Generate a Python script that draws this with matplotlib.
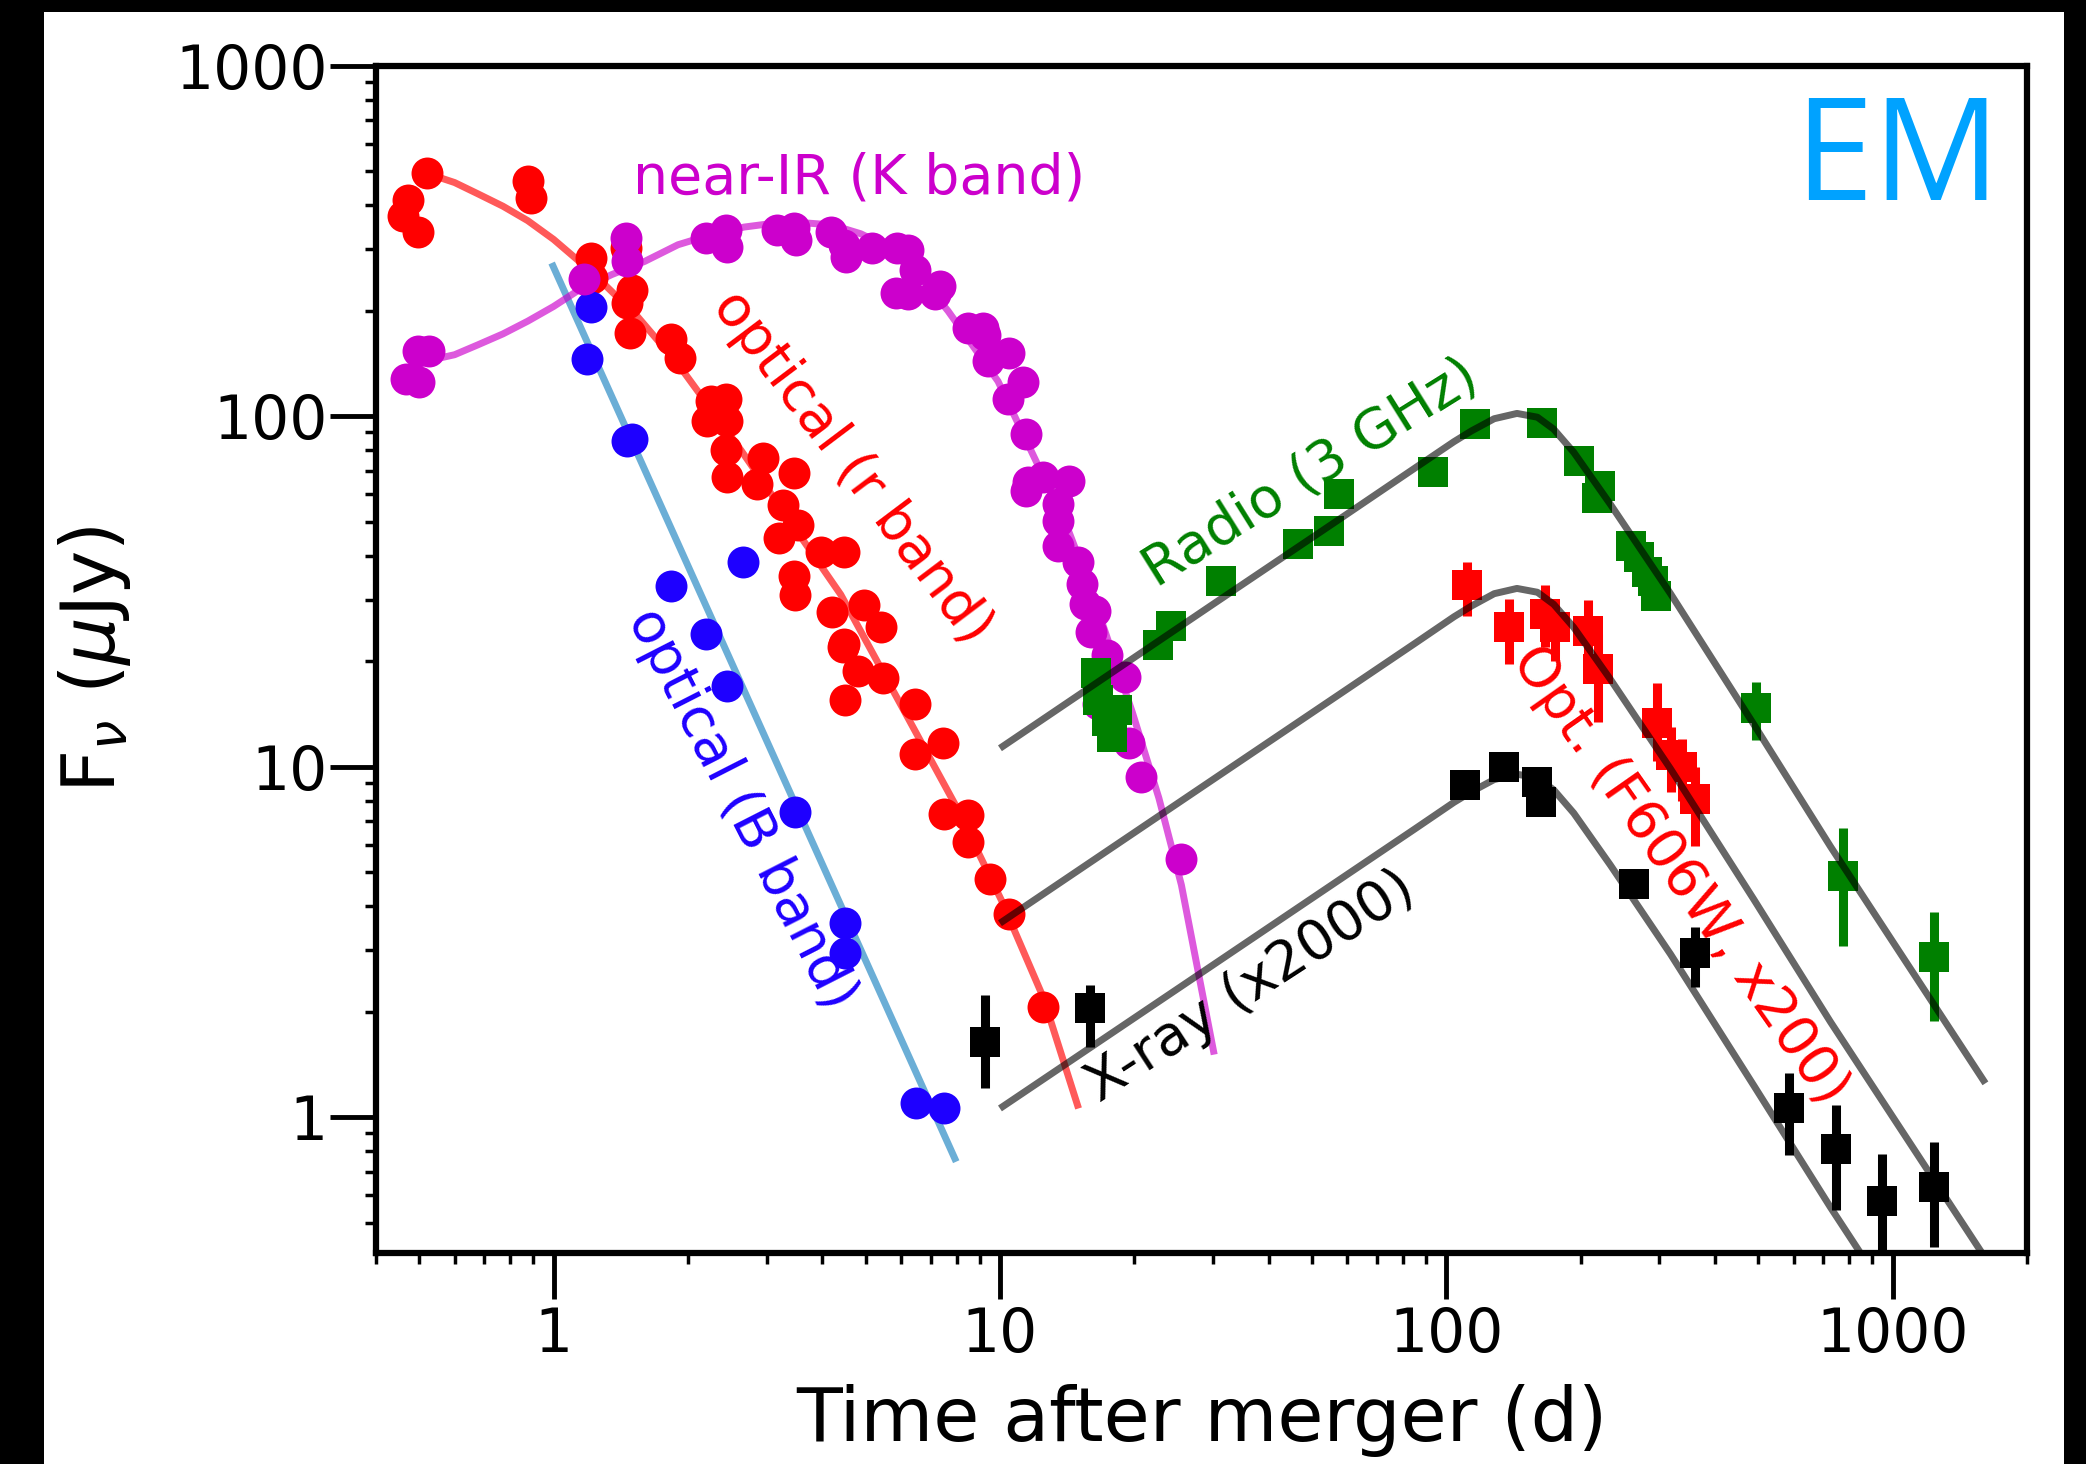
import matplotlib
matplotlib.use('Agg')
import matplotlib.pyplot as plt
from matplotlib.patches import Rectangle
from matplotlib.ticker import FixedLocator, FixedFormatter, LogLocator, NullFormatter
import numpy as np

# ---------------- data ----------------
# optical r band (red circles)
r_t = [0.459, 0.471, 0.498, 0.520, 0.878, 0.889, 1.21, 1.22, 1.45, 1.50, 1.46, 1.48,
       1.83, 1.92, 2.25, 2.43, 2.21, 2.45, 2.43, 2.45, 2.94, 2.86, 3.46, 3.26, 3.52, 3.20,
       3.46, 3.48, 3.97, 4.48, 4.21, 4.96, 5.41, 4.47, 4.45, 4.81, 5.47, 4.49, 6.46, 7.45,
       6.46, 7.51, 8.48, 8.48, 9.48, 10.5, 12.5]
r_f = [372, 415, 337, 494, 470, 420, 283, 248, 302, 230, 211, 173,
       166, 147, 111, 112, 97, 97, 80, 67, 76, 64, 69, 56, 49, 45,
       35, 31, 41, 41, 27.6, 29, 25, 22.4, 22, 18.8, 17.9, 15.5, 15.1, 11.7,
       10.9, 7.36, 7.3, 6.1, 4.8, 3.8, 2.06]
r_fit_t = [0.53, 0.60, 0.676, 0.77, 0.875, 1.0, 1.13, 1.30, 1.54, 1.90, 2.63, 4.40, 7.91,
           10.07, 12.5, 15.0]
r_fit_f = [490, 465, 432, 398, 362, 320, 280, 238, 193, 141, 80, 31, 7.87,
           4.17, 2.2, 1.06]

# optical B band (blue circles)
b_t = [1.21, 1.19, 1.46, 1.50, 1.83, 2.19, 2.45, 2.66, 3.47, 4.50, 4.50, 6.50, 7.51]
b_f = [205, 146, 85, 86, 32.9, 24, 17, 38.3, 7.45, 3.59, 2.94, 1.10, 1.06]
b_fit_t = [0.99, 7.98]
b_fit_f = [274, 0.747]

# near-IR K band (magenta circles)
k_t = [0.467, 0.50, 0.496, 0.525, 1.17, 1.45, 1.46, 2.19, 2.43, 2.45, 3.17, 3.46, 3.49,
       4.18, 4.48, 4.51, 5.18, 5.89, 5.84, 6.22, 6.44, 6.22, 7.33, 7.14, 8.48, 9.16, 9.24,
       9.40, 10.5, 11.26, 10.4, 11.45, 11.45, 11.55, 12.5, 14.3, 13.5, 13.5, 13.5, 14.96,
       15.3, 15.5, 16.3, 16.0, 17.4, 19.1, 16.6, 19.5, 20.7, 25.5]
k_f = [128, 125, 154, 154, 246, 323, 277, 323, 341, 305, 341, 346, 319,
       337, 309, 286, 302, 302, 225, 299, 262, 223, 235, 223, 179, 179, 171,
       144, 152, 125, 112, 89, 61.4, 64.8, 67, 65.5, 56.2, 50.4, 42.8, 38.4,
       33.3, 29.2, 27.9, 24.2, 20.8, 18.1, 15.1, 11.7, 9.37, 5.45]
k_fit_t = [0.52, 0.60, 0.676, 0.77, 0.875, 1.0, 1.13, 1.35, 1.60, 1.90, 2.25, 2.67, 3.33,
           4.2, 4.88, 5.9, 6.6, 7.65, 9.9, 11.96, 14.0, 16.0, 19.8, 22.7, 25.5, 30.2]
k_fit_f = [144, 150, 160, 172, 187, 206, 228, 254, 277, 309, 330, 347, 360,
           352, 332, 295, 252, 200, 126, 76, 50, 32, 14.3, 8.15, 4.6, 1.51]

# Radio 3 GHz (green squares)
rad_t = [16.4, 16.6, 17.4, 18.3, 17.8, 22.6, 24.2, 31.3, 46.5, 54.7, 57.6, 93.5, 115.9,
         164, 198, 221, 218, 259, 270, 282, 290, 295, 493, 775, 1241]
rad_f = [18.5, 15.5, 13.5, 14.5, 12.2, 22.2, 25.3, 34.0, 43.2, 47.2, 60, 69.2, 95,
         96, 74.7, 63.4, 58.7, 42.8, 39.6, 35.9, 34, 30.8, 14.7, 4.89, 2.87]
rad_lo = [17.5, 14.7, 12.8, 13.8, 11.6, 21.0, 24.0, 32.5, 41.5, 45.0, 56, 66.5, 92,
          91, 72, 61, 56, 41, 38, 34.5, 32.5, 29.5, 11.9, 3.09, 1.88]
rad_hi = [19.5, 16.3, 14.2, 15.2, 12.8, 23.4, 26.6, 35.5, 45.0, 49.5, 64, 72, 98,
          101, 77.5, 66, 61.5, 44.6, 41.2, 37.3, 35.5, 32.1, 17.5, 6.71, 3.86]

# Optical F606W x200 (red squares)
opt_t = [111, 138, 166, 175, 208, 219, 296, 318, 338, 360]
opt_f = [33.0, 25.0, 27.3, 25.0, 24.4, 19.0, 13.3, 10.8, 10.0, 8.1]
opt_lo = [27.0, 19.7, 22.0, 20.0, 19.0, 13.4, 10.4, 8.5, 8.0, 5.93]
opt_hi = [38.4, 30.1, 33.0, 30.0, 30.0, 24.0, 17.3, 13.0, 12.0, 10.0]

# X-ray x2000 (black squares)
xr_t = [9.24, 15.9, 110, 135, 160, 163, 263, 361, 587, 746, 948, 1241]
xr_f = [1.64, 2.05, 8.87, 10.0, 9.07, 7.96, 4.64, 2.94, 1.06, 0.814, 0.577, 0.634]
xr_lo = [1.21, 1.59, 8.5, 9.3, 8.6, 7.6, 4.3, 2.35, 0.782, 0.545, 0.35, 0.426]
xr_hi = [2.24, 2.39, 9.3, 10.6, 9.5, 8.3, 5.0, 3.50, 1.335, 1.086, 0.787, 0.849]

# afterglow model curves (grey)
mod_t = [10, 30, 58, 85, 104, 114, 128, 144, 160, 174, 193, 233, 318, 489, 726, 1614]
mod_radio = [11.3, 29.1, 51.2, 71.2, 84.7, 91, 98.5, 102, 99.5, 92, 79, 56.2, 31.2, 13.2, 5.92, 1.25]
mod_opt = [3.58, 9.2, 16.2, 22.5, 26.8, 28.8, 31.2, 32.3, 31.5, 29.1, 25.0, 17.8, 9.87, 4.18, 1.87, 0.396]
mod_xray = [1.06, 2.72, 4.79, 6.65, 7.92, 8.5, 9.2, 9.53, 9.3, 8.6, 7.38, 5.25, 2.92, 1.23, 0.553, 0.117]

xticks = [1, 10, 100, 1000]
xticklabels = ['1', '10', '100', '1000']
yticks = [1, 10, 100, 1000]
yticklabels = ['1', '10', '100', '1000']

# ---------------- figure ----------------
W, H = 2086, 1464
fig = plt.figure(figsize=(W / 100, H / 100), dpi=100)
fig.patch.set_facecolor('black')
fig.patches.append(Rectangle((44 / W, 0), (2064 - 44) / W, 1 - 12 / H,
                             transform=fig.transFigure, facecolor='white',
                             edgecolor='none', zorder=-5))

ax = fig.add_axes([376 / W, 1 - 1253 / H, (2027 - 376) / W, (1253 - 66) / H])
ax.set_xscale('log')
ax.set_yscale('log')

lw_fit = 5.0
ms = 23
c_mag = '#cc00cc'
c_blue = '#1e00ff'
c_green = '#008000'

# fits
ax.plot(b_fit_t, b_fit_f, color='#6baed6', lw=lw_fit, zorder=2, solid_capstyle='butt')
ax.plot(r_fit_t, r_fit_f, color='red', alpha=0.65, lw=lw_fit, zorder=2, solid_capstyle='butt')
ax.plot(k_fit_t, k_fit_f, color=c_mag, alpha=0.65, lw=lw_fit, zorder=2, solid_capstyle='butt')

# points
ax.plot(r_t, r_f, 'o', color='red', ms=ms, mew=0, zorder=3)
ax.plot(b_t, b_f, 'o', color=c_blue, ms=ms, mew=0, zorder=3)
ax.plot(k_t, k_f, 'o', color=c_mag, ms=ms, mew=0, zorder=3)

def errb(t, f, lo, hi, col):
    f = np.array(f); lo = np.array(lo); hi = np.array(hi)
    ax.errorbar(t, f, yerr=[f - lo, hi - f], fmt='s', color=col, ms=ms - 1, mew=0,
                elinewidth=6.5, capsize=0, zorder=3)

errb(rad_t, rad_f, rad_lo, rad_hi, c_green)
errb(opt_t, opt_f, opt_lo, opt_hi, 'red')
errb(xr_t, xr_f, xr_lo, xr_hi, 'black')

for m in (mod_radio, mod_opt, mod_xray):
    ax.plot(mod_t, m, color='black', alpha=0.6, lw=lw_fit, zorder=5, solid_capstyle='butt')

# axes styling
ax.set_xlim(0.4, 2000)
ax.set_ylim(0.41, 1000)
for s in ax.spines.values():
    s.set_linewidth(4.5)
ax.xaxis.set_major_locator(FixedLocator(xticks))
ax.xaxis.set_major_formatter(FixedFormatter(xticklabels))
ax.yaxis.set_major_locator(FixedLocator(yticks))
ax.yaxis.set_major_formatter(FixedFormatter(yticklabels))
ax.xaxis.set_minor_locator(LogLocator(base=10, subs=np.arange(2, 10), numticks=20))
ax.yaxis.set_minor_locator(LogLocator(base=10, subs=np.arange(2, 10), numticks=20))
ax.xaxis.set_minor_formatter(NullFormatter())
ax.yaxis.set_minor_formatter(NullFormatter())
ax.tick_params(which='major', direction='out', length=33, width=3.5, labelsize=43,
               top=False, right=False)
ax.tick_params(which='minor', direction='out', length=8, width=2.5, top=False, right=False)
ax.tick_params(axis='x', which='major', pad=5)
ax.tick_params(axis='y', which='major', pad=2)

ax.set_xlabel('Time after merger (d)', fontsize=54)
ax.xaxis.set_label_coords(0.5, -0.11)
ax.set_ylabel(r'F$_\nu$ ($\mu$Jy)', fontsize=54)
ax.yaxis.set_label_coords(-0.147, 0.5)

fs = 40
ax.text(4.84, 477, 'near-IR (K band)', color=c_mag, fontsize=fs, ha='center', va='center')
ax.text(4.67, 71.8, 'optical (r band)', color='red', fontsize=fs, ha='center', va='center',
        rotation=-53, rotation_mode='anchor')
ax.text(2.63, 7.6, 'optical (B band)', color=c_blue, fontsize=fs, ha='center', va='center',
        rotation=-63, rotation_mode='anchor')
ax.text(49.8, 69, 'Radio (3 GHz)', color=c_green, fontsize=fs, ha='center', va='center',
        rotation=32, rotation_mode='anchor')
ax.text(36.5, 2.36, 'X-ray (x2000)', color='black', fontsize=fs, ha='center', va='center',
        rotation=33, rotation_mode='anchor')
ax.text(333, 4.92, 'Opt. (F606W, x200)', color='red', fontsize=fs, ha='center', va='center',
        rotation=-55, rotation_mode='anchor')

fig.text(2000 / W, 1 - 200 / H, 'EM', color='#00a2ff', fontsize=102, family='Open Sans',
         ha='right', va='baseline')

fig.savefig('out.png', dpi=100, facecolor=fig.get_facecolor())
